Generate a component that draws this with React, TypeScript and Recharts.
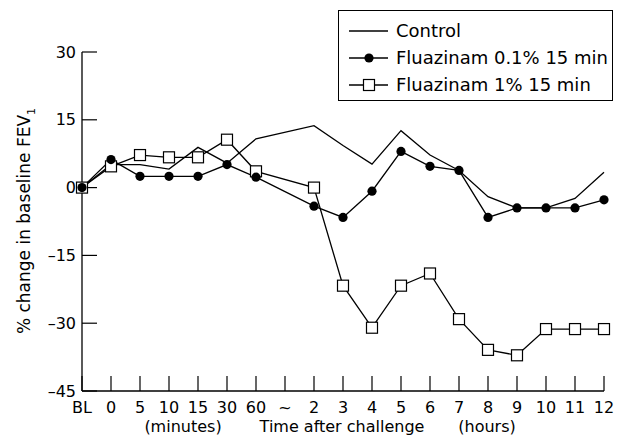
import React from "react";
import { LineChart, Line, XAxis, YAxis, Legend } from "recharts";

// time points: minutes after challenge, then hours ("~" is the gap marker)
const categories = ["BL", "0", "5", "10", "15", "30", "60", "~", "2", "3", "4", "5", "6", "7", "8", "9", "10", "11", "12"];

const control = [0, 5.1, 5.1, 4.1, 8.9, 5.4, 10.8, null, 13.7, 9.3, 5.2, 12.6, 7.2, 3.8, -2.0, -4.5, -4.5, -2.4, 3.4];
const fluazinam01 = [0, 6.2, 2.5, 2.5, 2.5, 5.1, 2.3, null, -4.1, -6.6, -0.8, 8.0, 4.7, 3.8, -6.6, -4.5, -4.5, -4.5, -2.7];
const fluazinam1 = [0, 4.7, 7.2, 6.7, 6.7, 10.6, 3.6, null, 0, -21.7, -31.0, -21.7, -19.0, -29.1, -35.9, -37.1, -31.3, -31.3, -31.3];

const yTicks = [-45, -30, -15, 0, 15, 30];

const data = categories.map((t, i) => ({
  t,
  control: control[i],
  f01: fluazinam01[i],
  f1: fluazinam1[i],
}));

const FONT = "'DejaVu Sans', sans-serif";

const CircleDot = (props: any) => {
  const { cx, cy, value, index } = props;
  if (value == null || cx == null || cy == null) return <g key={`c-${index}`} />;
  return <circle key={`c-${index}`} cx={cx} cy={cy} r={4.6} fill="#000" />;
};

const SquareDot = (props: any) => {
  const { cx, cy, value, index } = props;
  if (value == null || cx == null || cy == null) return <g key={`s-${index}`} />;
  return (
    <rect key={`s-${index}`} x={cx - 5.5} y={cy - 5.5} width={11} height={11} fill="#fff" stroke="#000" strokeWidth={1.2} />
  );
};

const legendRows = [
  { label: "Control", marker: "none" },
  { label: "Fluazinam 0.1% 15 min", marker: "circle" },
  { label: "Fluazinam 1% 15 min", marker: "square" },
];

const LegendBox = () => (
  <div
    style={{
      border: "1.3px solid #000",
      background: "#fff",
      width: 275,
      height: 91,
      boxSizing: "border-box",
      paddingTop: 6,
      fontFamily: FONT,
      fontSize: 18,
      color: "#000",
    }}
  >
    {legendRows.map((r) => (
      <div key={r.label} style={{ display: "flex", alignItems: "center", height: 27 }}>
        <svg width={48} height={16} style={{ marginLeft: 9, flex: "none" }}>
          <line x1={1} y1={8} x2={40} y2={8} stroke="#000" strokeWidth={1.3} />
          {r.marker === "circle" && <circle cx={21} cy={8} r={4.6} fill="#000" />}
          {r.marker === "square" && (
            <rect x={15.5} y={2.5} width={11} height={11} fill="#fff" stroke="#000" strokeWidth={1.2} />
          )}
        </svg>
        <span style={{ whiteSpace: "nowrap" }}>{r.label}</span>
      </div>
    ))}
  </div>
);

export default function App() {
  return (
    <div style={{ position: "absolute", left: 0, top: 0, width: 618, height: 443, background: "#fff" }}>
      <LineChart width={618} height={443} data={data} margin={{ top: 52, right: 14, bottom: 22, left: 0 }}>
        <XAxis
          dataKey="t"
          interval={0}
          height={30}
          tickSize={-15}
          tickMargin={26}
          axisLine={{ stroke: "#000", strokeWidth: 1.3 }}
          tickLine={{ stroke: "#000", strokeWidth: 1.2 }}
          tick={{ fill: "#000", fontSize: 16, fontFamily: FONT }}
        />
        <YAxis
          type="number"
          width={82}
          domain={[-45, 30]}
          ticks={yTicks}
          interval={0}
          tickSize={-15}
          tickMargin={21}
          tickFormatter={(v: number) => (v < 0 ? `\u2013${Math.abs(v)}` : `${v}`)}
          axisLine={{ stroke: "#000", strokeWidth: 1.3 }}
          tickLine={{ stroke: "#000", strokeWidth: 1.2 }}
          tick={{ fill: "#000", fontSize: 16, fontFamily: FONT }}
        />
        <Legend
          layout="horizontal"
          verticalAlign="middle"
          align="center"
          content={() => <LegendBox />}
          wrapperStyle={{ left: 338, top: 10, width: 275 }}
        />
        <Line dataKey="control" stroke="#000" strokeWidth={1.3} dot={false} connectNulls isAnimationActive={false} />
        <Line dataKey="f1" stroke="#000" strokeWidth={1.3} dot={SquareDot} connectNulls isAnimationActive={false} />
        <Line dataKey="f01" stroke="#000" strokeWidth={1.3} dot={CircleDot} connectNulls isAnimationActive={false} />
      </LineChart>
      <svg
        width={618}
        height={443}
        style={{ position: "absolute", left: 0, top: 0, pointerEvents: "none" }}
        fontFamily={FONT}
        fill="#000"
      >
        <text transform="translate(30,221) rotate(-90)" textAnchor="middle" fontSize={17}>
          % change in baseline FEV<tspan fontSize={11} dy={5}>1</tspan>
        </text>
        <text x={183} y={432} textAnchor="middle" fontSize={16}>(minutes)</text>
        <text x={342} y={432} textAnchor="middle" fontSize={16}>Time after challenge</text>
        <text x={487} y={432} textAnchor="middle" fontSize={16}>(hours)</text>
      </svg>
    </div>
  );
}
